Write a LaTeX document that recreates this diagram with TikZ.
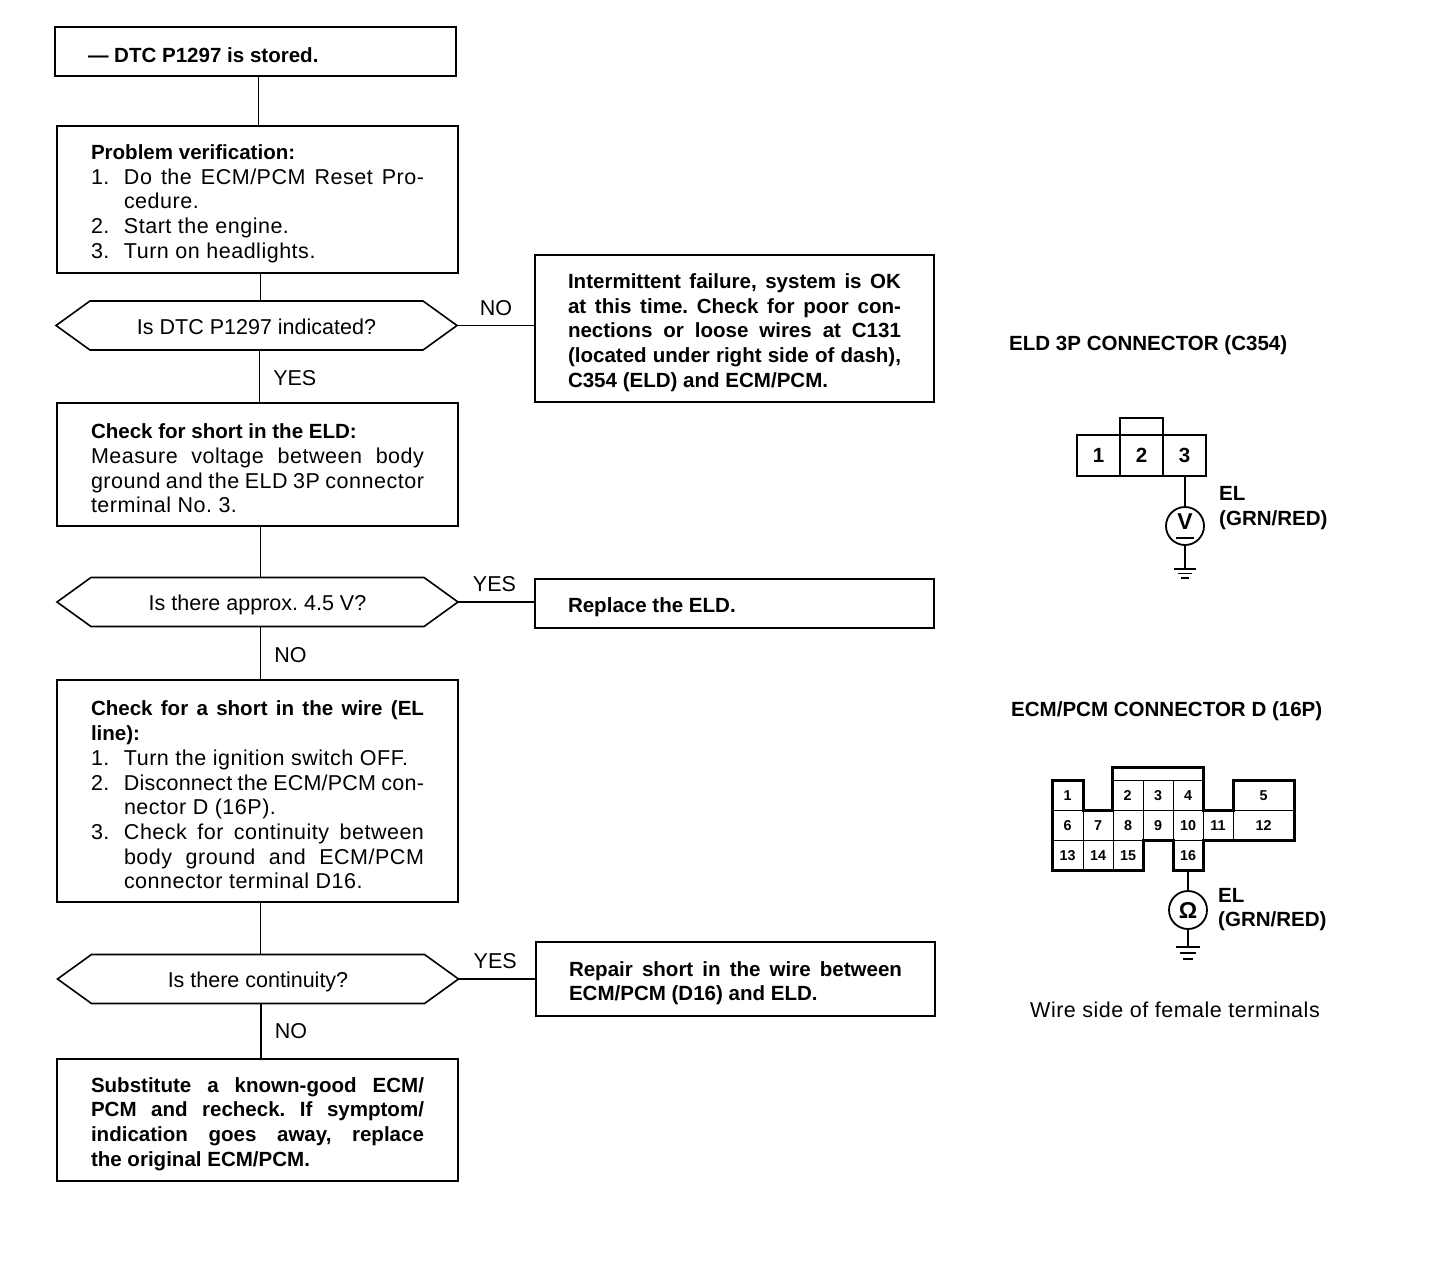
\documentclass[tikz,border=0pt]{standalone}
\usepackage{fontspec}
\setmainfont[BoldFeatures={Scale=0.955}]{Liberation Sans}
\newfontfamily\boxfam[LetterSpace=2.4,BoldFeatures={LetterSpace=0,Scale=0.955}]{Liberation Sans}
\usetikzlibrary{shapes.misc}
\setlength{\parindent}{0pt}
\hbadness=10000
\frenchspacing
\newcommand\mainfnt{\fontsize{21.5}{24.7}\selectfont}
\newcommand\cellfnt{\fontsize{15}{16}\selectfont\bfseries}
\newcommand\stepitem[2]{\par\hangindent=33pt\hangafter=1\leavevmode\hbox to 33pt{#1\hfil}#2\par}
\newcommand\asktext[1]{\smash{\raisebox{-8.5pt}{#1}}}
\tikzset{
  stepbox/.style={draw,line width=1.6pt,outer sep=0pt,inner xsep=34pt,inner ysep=0pt,text width=333pt,align=justify,anchor=north west,minimum height=#1,font=\boxfam\mainfnt,execute at begin node=\rule{0pt}{23pt}},
  sidebox/.style={stepbox=#1,inner xsep=33pt,font=\mainfnt\bfseries},
  askbox/.style={draw,line width=1.6pt,outer sep=0pt,inner sep=0pt,chamfered rectangle,chamfered rectangle angle=54.2,chamfered rectangle xsep=34pt,chamfered rectangle ysep=24.5pt,minimum width=401pt,font=\mainfnt},
  wire/.style={line width=1.6pt},
  lbl/.style={font=\mainfnt,inner sep=0pt},
  ttl/.style={font=\mainfnt\bfseries,inner sep=0pt,anchor=west},
  cell/.style={draw,line width=.9pt,outer sep=0pt,inner sep=0pt,anchor=north west,font=\cellfnt,text height=10.5pt,text depth=0pt,minimum height=30pt},
  bigcell/.style={draw,line width=1.6pt,outer sep=0pt,inner sep=0pt,anchor=north west,font=\mainfnt\bfseries,minimum width=43pt,minimum height=41pt},
  meter/.style={draw,circle,line width=1.8pt,outer sep=0pt,inner sep=0pt,minimum size=38pt,font=\fontsize{24}{24}\selectfont\bfseries},
}
\begin{document}
\begin{tikzpicture}[x=1pt,y=-1pt]
  \useasboundingbox (0,0) rectangle (1440,1276);
  \node[stepbox=49pt] (stored) at (55,27) {\bfseries\kern-1pt — DTC P1297 is stored.};
  \node[stepbox=147pt] (verify) at (57,126) {\textbf{Problem verification:}
    \stepitem{1.}{Do the ECM/PCM Reset Pro-\linebreak cedure.}
    \stepitem{2.}{Start the engine.}
    \stepitem{3.}{Turn on headlights.}};
  \node[askbox] (askdtc) at (256.5,325.5) {\asktext{Is DTC P1297 indicated?}};
  \node[stepbox=123pt] (shorteld) at (57,403) {\textbf{Check for short in the ELD:}\par
    Measure voltage between body\linebreak
    ground and the ELD 3P connector\linebreak
    terminal No. 3.};
  \node[askbox] (askvolt) at (257.5,602) {\asktext{Is there approx. 4.5 V?}};
  \node[stepbox=222pt] (shortwire) at (57,680) {\textbf{Check for a short in the wire (EL\linebreak line):}
    \stepitem{1.}{Turn the ignition switch OFF.}
    \stepitem{2.}{{\addfontfeature{LetterSpace=1}Disconnect the ECM/PCM con-}\linebreak nector D (16P).}
    \stepitem{3.}{Check for continuity between\linebreak body ground and ECM/PCM\linebreak connector terminal D16.}};
  \node[askbox] (askcont) at (258,979) {\asktext{Is there continuity?}};
  \node[stepbox=122pt,font=\mainfnt\bfseries] (substitute) at (57,1059) {Substitute a known-good ECM/\linebreak
    PCM and recheck. If symptom/\linebreak
    indication goes away, replace\linebreak
    the original ECM/PCM.};
  \node[sidebox=147pt] (intermit) at (535,255) {Intermittent failure, system is OK\linebreak
    at this time. Check for poor con-\linebreak
    nections or loose wires at C131\linebreak
    (located under right side of dash),\linebreak
    C354 (ELD) and ECM/PCM.};
  \node[sidebox=49pt] (replace) at (535,579) {Replace the ELD.};
  \node[sidebox=74pt] (repair) at (536,942) {Repair short in the wire between\linebreak
    ECM/PCM (D16) and ELD.};
  \foreach \a/\b in {stored/verify,verify/askdtc,shorteld/askvolt,shortwire/askcont}
    \draw[wire] ([xshift=3pt]\a.south) -- ([xshift=3pt]\a.south |- \b.north);
  \draw[wire] ([xshift=3pt]askdtc.south) --node[right=13pt,yshift=-2pt,lbl]{YES} ([xshift=3pt]askdtc.south |- shorteld.north);
  \draw[wire] ([xshift=3pt]askvolt.south) --node[right=13pt,yshift=-2pt,lbl]{NO} ([xshift=3pt]askvolt.south |- shortwire.north);
  \draw[wire] ([xshift=3pt]askcont.south) --node[right=13pt,lbl]{NO} ([xshift=3pt]askcont.south |- substitute.north);
  \draw[wire] (askdtc.east) --node[above=9pt,lbl]{NO} (askdtc.east -| intermit.west);
  \draw[wire] (askvolt.east) --node[above=9pt,xshift=-2pt,lbl]{YES} (askvolt.east -| replace.west);
  \draw[wire] (askcont.east) --node[above=9pt,xshift=-2pt,lbl]{YES} (askcont.east -| repair.west);

  \node[ttl] (eldtitle) at (1009,345) {ELD 3P CONNECTOR (C354)};
  \foreach \n/\x in {1/1077,2/1120,3/1163}
    \node[bigcell] (eld\n) at (\x,435) {\n};
  \draw[wire] (eld2.north west) -- ++(0,-17) -| (eld2.north east);
  \node[meter] (volt) at (1185,526) {};
  \node[font=\fontsize{24}{24}\selectfont\bfseries,inner sep=0pt] (voltv) at (1185,522) {V};
  \draw[wire] (1176,538) -- (1194,538);
  \coordinate (eldgnd) at (1185,569);
  \draw[wire] (eld3.south -| volt.north) -- (volt.north);
  \draw[wire] (volt.south) -- (eldgnd);
  \draw[wire] ([xshift=-11pt]eldgnd) -- ([xshift=11pt]eldgnd);
  \draw[wire] ([shift={(-7pt,-4.5pt)}]eldgnd) -- ([shift={(7pt,-4.5pt)}]eldgnd);
  \draw[wire] ([shift={(-4pt,-9pt)}]eldgnd) -- ([shift={(4pt,-9pt)}]eldgnd);
  \node[lbl,font=\mainfnt\bfseries,anchor=west] (eldwire) at (1219,493) {EL};
  \node[lbl,font=\mainfnt\bfseries,anchor=west] (eldcolor) at (1219,520) {(GRN/RED)};

  \node[ttl] (ecmtitle) at (1011,711) {ECM/PCM CONNECTOR D (16P)};
  \foreach \n/\x/\y/\w in {1/1052/780/31,2/1112/780/31,3/1143/780/30,4/1173/780/30,5/1233/780/61,
      6/1052/810/31,7/1083/810/30,8/1113/810/30,9/1143/810/30,10/1173/810/30,11/1203/810/30,12/1233/810/61,
      13/1052/840/31,14/1083/840/30,15/1113/840/30,16/1173/840/30}
    \node[cell,minimum width=\w pt] (pin\n) at (\x,\y) {\n};
  \draw[line width=3pt,line join=miter] (1052,780) -- (1083,780) -- (1083,810) -- (1112,810) -- (1112,767) -- (1203,767) -- (1203,810) -- (1233,810) -- (1233,780) -- (1294,780) -- (1294,840) -- (1203,840) -- (1203,870) -- (1173,870) -- (1173,840) -- (1143,840) -- (1143,870) -- (1052,870) -- cycle;
  \node[meter] (ohm) at (1188,910) {\symbol{"03A9}};
  \coordinate (ecmgnd) at (1188,947);
  \draw[wire] (pin16.south) -- (ohm.north);
  \draw[wire] (ohm.south) -- (ecmgnd);
  \draw[wire] ([xshift=-12pt]ecmgnd) -- ([xshift=12pt]ecmgnd);
  \draw[wire] ([shift={(-8pt,-6pt)}]ecmgnd) -- ([shift={(8pt,-6pt)}]ecmgnd);
  \draw[wire] ([shift={(-5pt,-12pt)}]ecmgnd) -- ([shift={(5pt,-12pt)}]ecmgnd);
  \node[lbl,font=\mainfnt\bfseries,anchor=west] (ecmwire) at (1218,895) {EL};
  \node[lbl,font=\mainfnt\bfseries,anchor=west] (ecmcolor) at (1218,921) {(GRN/RED)};
  \node[lbl,font=\boxfam\mainfnt,anchor=west] (wireside) at (1030,1010) {Wire side of female terminals};
\end{tikzpicture}
\end{document}
